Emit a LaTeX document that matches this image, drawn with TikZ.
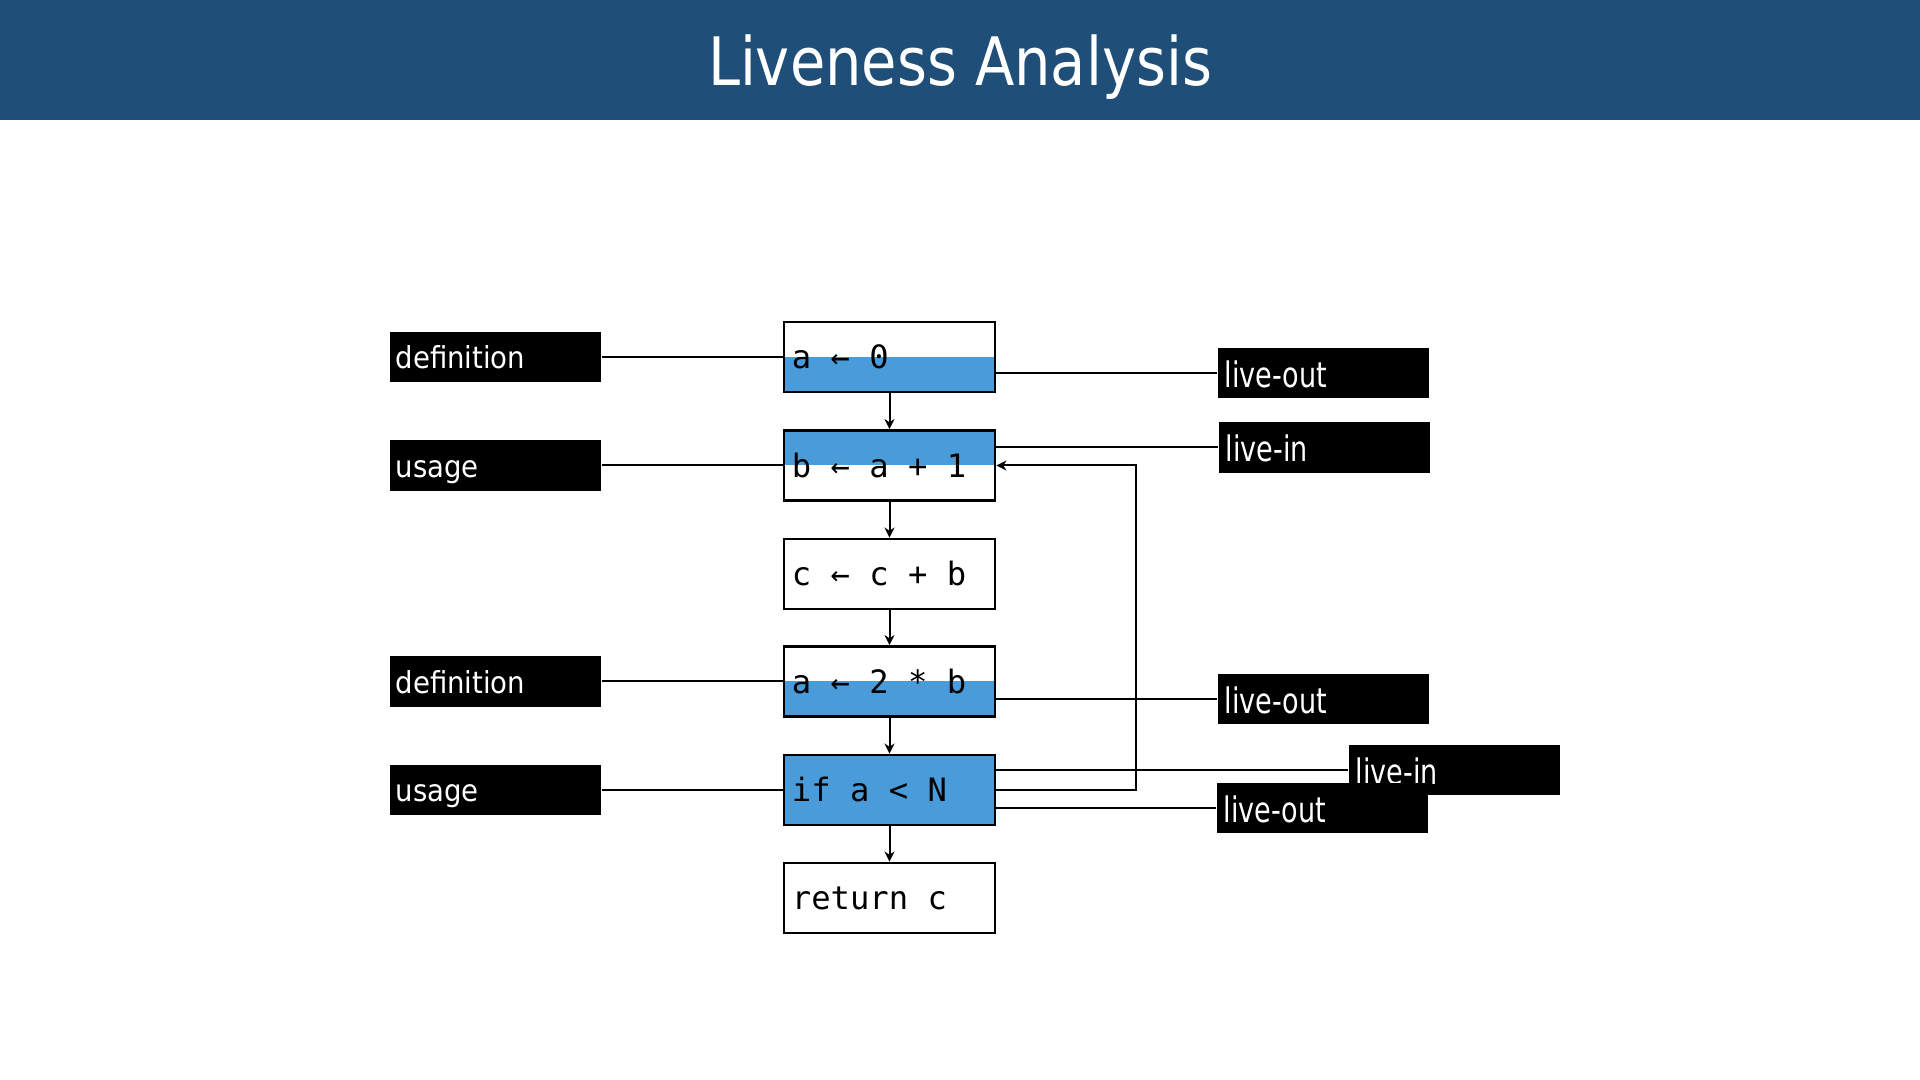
\documentclass[tikz,border=0pt]{standalone}
\usepackage{fontspec}
\usetikzlibrary{arrows.meta}
\newfontfamily\codefont{DejaVu Sans Mono}
\newfontfamily\titlefont[FakeStretch=0.86]{DejaVu Sans}
\newfontfamily\leftfont[FakeStretch=0.91]{DejaVu Sans}
\newfontfamily\rightfont[FakeStretch=0.77]{DejaVu Sans}
\definecolor{barblue}{HTML}{1F4E79}
\definecolor{liveblue}{HTML}{4A9BD9}
\begin{document}
\begin{tikzpicture}[x=0.01cm, y=-0.01cm,
  stmt/.style={draw, line width=0.8pt, minimum height=0.7cm, text width=1.95cm, inner xsep=0.08cm, inner ysep=0pt, align=left, font=\codefont\fontsize{9.15pt}{11pt}\selectfont, execute at begin node={\spaceskip=0.602em\relax}},
  lower/.style={path picture={\fill[liveblue] (path picture bounding box.west) rectangle (path picture bounding box.south east);}},
  upper/.style={path picture={\fill[liveblue] (path picture bounding box.north west) rectangle (path picture bounding box.east);}},
  whole/.style={fill=liveblue},
  tag/.style={fill=black, text=white, minimum height=0.5cm, inner ysep=0pt, align=left, anchor=west},
  lefttag/.style={tag, text width=1.99cm, inner xsep=0.06cm, text height=0.7em, text depth=0.03em, font=\leftfont\fontsize{8.6pt}{10pt}\selectfont},
  righttag/.style={tag, text width=1.97cm, inner xsep=0.07cm, text height=0.85em, text depth=0.03em, font=\rightfont\fontsize{10pt}{12pt}\selectfont},
  link/.style={line width=0.57pt},
  flow/.style={line width=0.57pt, -{Stealth[length=1mm, width=1mm]}}]
  \useasboundingbox (0,0) rectangle (1920,1080);
  \fill [barblue] (0,0) rectangle (1920,120);
  \node [text=white, anchor=base, font=\titlefont\fontsize{19pt}{22pt}\selectfont] (title) at (960,86) {Liveness Analysis};
    \node [stmt, lower] (s1) at (889.5,357) {a ← 0};
    \node [stmt, upper] (s2) at (889.5,465.5) {b ← a + 1};
    \node [stmt] (s3) at (889.5,574) {c ← c + b};
    \node [stmt, lower] (s4) at (889.5,681.5) {a ← 2 * b};
    \node [stmt, whole] (s5) at (889.5,790) {if a < N};
    \node [stmt] (s6) at (889.5,898) {return c};
  \node [lefttag] (d1) at (389,357) {definition};
  \node [lefttag] (u1) at (389,465.5) {usage};
  \node [lefttag] (d2) at (389,681.5) {definition};
  \node [lefttag] (u2) at (389,790) {usage};
  \node [righttag] (o1) at (1217,373) {live-out};
  \node [righttag] (i1) at (1218,447.5) {live-in};
  \node [righttag] (o2) at (1217,699) {live-out};
  \node [righttag] (i2) at (1348,770) {live-in};
  \node [righttag] (o3) at (1216,808) {live-out};
  \coordinate (back) at (1136,790);
    \draw [flow] (s1) -- (s2);
    \draw [flow] (s2) -- (s3);
    \draw [flow] (s3) -- (s4);
    \draw [flow] (s4) -- (s5);
    \draw [flow] (s5) -- (s6);
    \draw [flow] (s5) -- (back) |- (s2);
  \draw [link] (d1) -- (s1);
  \draw [link] (u1) -- (s2);
  \draw [link] (d2) -- (s4);
  \draw [link] (u2) -- (s5);
  \draw [link] (o1.west -| s1.east) -- (o1.west);
  \draw [link] (i1.west -| s2.east) -- (i1.west);
  \draw [link] (o2.west -| s4.east) -- (o2.west);
  \draw [link] (i2.west -| s5.east) -- (i2.west);
  \draw [link] (o3.west -| s5.east) -- (o3.west);
\end{tikzpicture}
\end{document}
